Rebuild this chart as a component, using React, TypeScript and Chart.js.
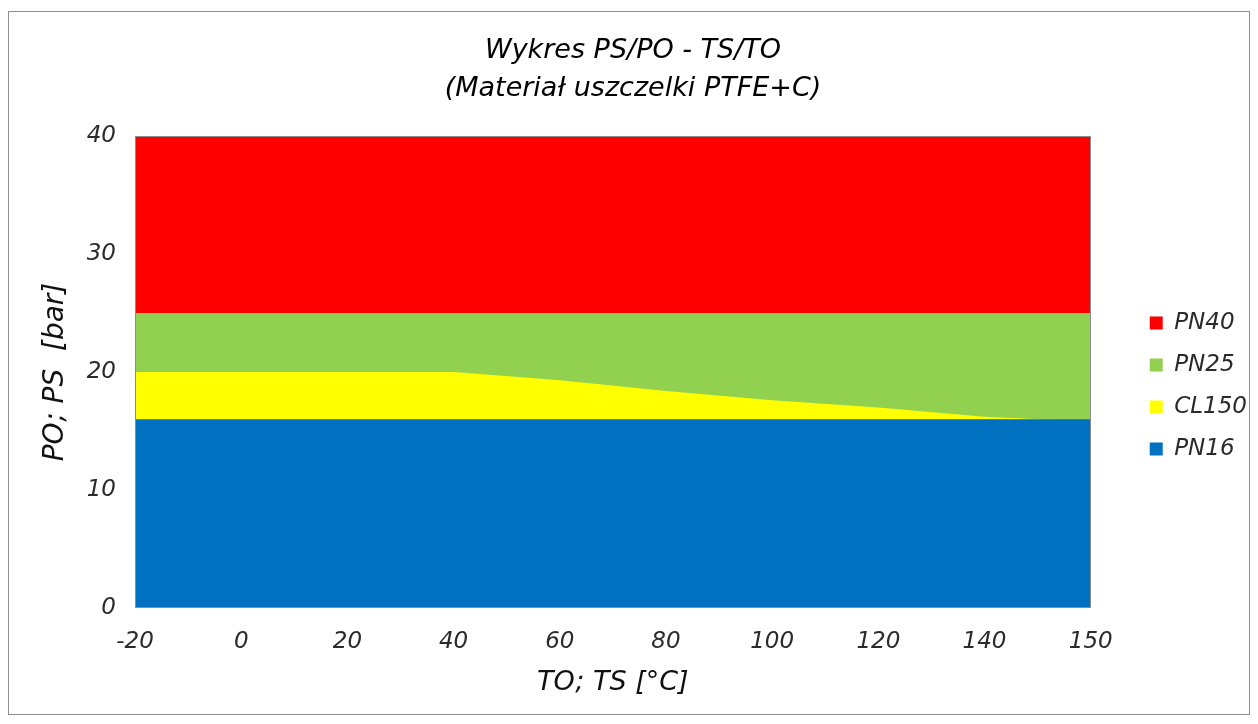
import React, { useEffect, useRef } from "react";
import { Chart, registerables } from "chart.js";

Chart.register(...registerables);

const temperatures = ["-20", "0", "20", "40", "60", "80", "100", "120", "140", "150"];
const pn16 = [16, 16, 16, 16, 16, 16, 16, 16, 16, 16];
const cl150 = [20, 20, 20, 20, 19.3, 18.4, 17.6, 17.0, 16.2, 15.8];
const pn25 = [25, 25, 25, 25, 25, 25, 25, 25, 25, 25];
const pn40 = [40, 40, 40, 40, 40, 40, 40, 40, 40, 40];
const yTicks = [0, 10, 20, 30, 40];

const titleLines = ["Wykres PS/PO - TS/TO", "(Materiał uszczelki PTFE+C)"];
const xTitle = "TO; TS [°C]";
const yTitle = "PO; PS  [bar]";

const FONT = "'DejaVu Sans', sans-serif";
const TXT = "#2b2b2b";

const plotBorder = {
  id: "plotBorder",
  afterDatasetsDraw(chart: any) {
    const { ctx, chartArea } = chart;
    ctx.save();
    ctx.strokeStyle = "#8c8c8c";
    ctx.lineWidth = 1;
    ctx.strokeRect(
      Math.round(chartArea.left) + 0.5,
      Math.round(chartArea.top) + 0.5,
      Math.round(chartArea.right - chartArea.left) - 1,
      Math.round(chartArea.bottom - chartArea.top) - 1
    );
    ctx.restore();
  },
};

function ds(label: string, data: number[], color: string) {
  return {
    label,
    data,
    backgroundColor: color,
    borderColor: "rgba(0,0,0,0)",
    borderWidth: 1,
    pointRadius: 0,
    pointHoverRadius: 0,
    tension: 0,
    fill: "origin",
  };
}

export default function App() {
  const ref = useRef<HTMLCanvasElement>(null);
  useEffect(() => {
    const chart = new Chart(ref.current as HTMLCanvasElement, {
      type: "line",
      data: {
        labels: temperatures,
        datasets: [
          ds("PN16", pn16, "#0070C0"),
          ds("CL150", cl150, "#FFFF00"),
          ds("PN25", pn25, "#92D050"),
          ds("PN40", pn40, "#FF0000"),
        ] as any,
      },
      options: {
        animation: false,
        responsive: true,
        maintainAspectRatio: false,
        devicePixelRatio: 1,
        layout: { padding: { left: 0, right: -8, top: 0, bottom: 0 } },
        interaction: { mode: "index", intersect: false },
        plugins: {
          tooltip: { enabled: false },
          title: {
            display: true,
            text: titleLines,
            color: "#000",
            font: { family: FONT, size: 27, style: "italic", weight: "normal", lineHeight: "38px" } as any,
            padding: { top: 20, bottom: 28 },
          },
          legend: {
            display: true,
            position: "right",
            reverse: true,
            title: { display: true, text: "", padding: 0, font: { size: 1, lineHeight: "46px" } as any },
            labels: {
              boxWidth: 13,
              boxHeight: 13,
              padding: 19,
              color: TXT,
              font: { family: FONT, size: 23, style: "italic" },
            },
          },
        },
        scales: {
          x: {
            type: "category",
            offset: false,
            grid: { display: false, drawTicks: false },
            border: { display: false },
            ticks: {
              color: TXT,
              padding: 20,
              maxRotation: 0,
              autoSkip: false,
              font: { family: FONT, size: 23, style: "italic" },
            },
            title: {
              display: true,
              text: xTitle,
              color: "#111",
              font: { family: FONT, size: 27, style: "italic" },
              padding: { top: 0, bottom: 15 },
            },
            afterFit: (s: any) => {
              s.height = 106;
            },
          },
          y: {
            type: "linear",
            min: 0,
            max: 40,
            grid: { display: false, drawTicks: false },
            border: { display: false },
            afterBuildTicks: (s: any) => {
              s.ticks = yTicks.map((v) => ({ value: v }));
            },
            ticks: {
              color: TXT,
              padding: 19,
              font: { family: FONT, size: 23, style: "italic" },
            },
            title: {
              display: true,
              text: yTitle,
              color: "#111",
              font: { family: FONT, size: 28, style: "italic" },
              padding: { top: 30, bottom: 0 },
            },
            afterFit: (s: any) => {
              s.width = 126;
            },
          },
          yPad: {
            type: "linear",
            position: "right",
            display: true,
            grid: { display: false, drawTicks: false },
            border: { display: false },
            ticks: { display: false },
            afterFit: (s: any) => {
              s.width = 40;
            },
          },
        },
      } as any,
      plugins: [plotBorder],
    });
    return () => chart.destroy();
  }, []);

  return (
    <div style={{ paddingTop: 3 }}>
      <div
        style={{
          width: 1240,
          height: 702,
          border: "1px solid #8e8e8e",
          position: "relative",
          background: "#fff",
        }}
      >
        <canvas ref={ref} />
      </div>
    </div>
  );
}
